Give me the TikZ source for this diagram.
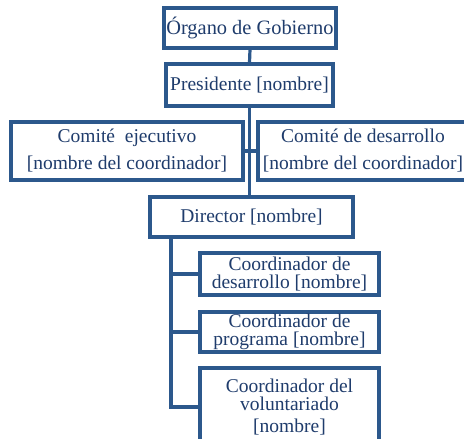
\documentclass[tikz,border=0pt]{standalone}
\usepackage{fontspec}
\setmainfont{Liberation Serif}
\definecolor{boxblue}{RGB}{44,88,140}
\definecolor{txtblue}{RGB}{31,60,108}
\begin{document}
\begin{tikzpicture}[x=1pt,y=-1pt,
  box/.style={draw=boxblue, line width=3.2pt, fill=white, text=txtblue, align=center,
    inner sep=0pt, font=\fontsize{19.5}{19}\selectfont},
  twoline/.style={font=\fontsize{19.5}{18.5}\selectfont},
  link/.style={draw=boxblue, line width=3.2pt}]
\useasboundingbox (0,0) rectangle (464,439);
\clip (0,0) rectangle (464,439);
% nodes
\node[box, minimum width=172, minimum height=40, font=\fontsize{20.4}{20}\selectfont] (organo) at (250,28) {Órgano de Gobierno};
\node[box, minimum width=167, minimum height=42] (pres) at (249.5,85) {Presidente [nombre]};
\node[box, minimum width=232, minimum height=58, font=\fontsize{19.5}{27}\selectfont] (ce) at (127,151) {Comité\ \ ejecutivo\\\relax [nombre del coordinador]};
\node[box, minimum width=210, minimum height=58, font=\fontsize{19.5}{27}\selectfont] (cd) at (363,151) {Comité de desarrollo\\\relax [nombre del coordinador]};
\node[box, minimum width=203, minimum height=40] (dir) at (251.5,217) {Director [nombre]};
\node[box, twoline, minimum width=179, minimum height=42] (c1) at (289.5,274) {Coordinador de\\ desarrollo [nombre]};
\node[box, twoline, minimum width=179, minimum height=40] (c2) at (289.5,332) {Coordinador de\\ programa [nombre]};
\node[box, twoline, minimum width=179, minimum height=78] (c3) at (289.5,407) {Coordinador del\\ voluntariado\\[3pt]\relax [nombre]};
% connectors
\coordinate (spine) at (171,237);
\draw[link] (organo.south) -- (pres.north);
\draw[link] (pres.south) -- (pres.south |- dir.north);
\draw[link] (ce.east) -- (cd.west);
\draw[link] (spine) |- (c3.west);
\draw[link] (spine |- c1.west) -- (c1.west);
\draw[link] (spine |- c2.west) -- (c2.west);
\end{tikzpicture}
\end{document}
